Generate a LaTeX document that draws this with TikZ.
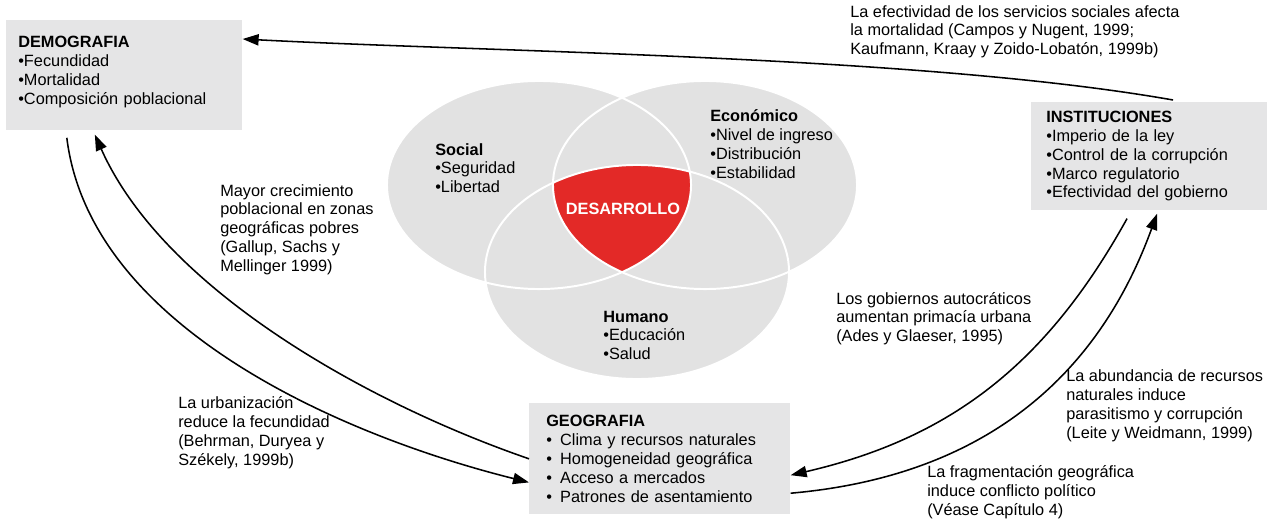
\documentclass[tikz,border=0pt]{standalone}
\usepackage{fontspec}
\setmainfont{Liberation Sans}
\usetikzlibrary{positioning, arrows.meta}

\definecolor{boxgray}{RGB}{229,229,230}
\definecolor{venngray}{RGB}{226,226,226}
\definecolor{devred}{RGB}{227,41,39}

\begin{document}
\begin{tikzpicture}[
	x=0.025cm, y=0.025cm,
	font=\fontsize{11.6}{13.4}\selectfont,
	% Define styles (notes are placed by the baseline of their last line)
	box/.style={rectangle, fill=boxgray, anchor=north west, align=left, inner ysep=0pt},
	note/.style={anchor=base west, align=left, inner sep=0pt},
	lobe/.style={x radius=3.8cm, y radius=2.6cm},
	arrow/.style={-{Triangle[length=0.4cm, width=0.28cm]}, line width=1.1pt},
	rim/.style={draw=white, line width=1.4pt}
	]
	
	\useasboundingbox (0,0) rectangle (1267,-519);
	
	% 1. Factor boxes
	\node[box, inner xsep=0.3cm, text width=5.3cm, minimum height=2.75cm] (demo) at (6,-20) {
		\textbf{DEMOGRAFIA}\\•Fecundidad\\•Mortalidad\\•Composición poblacional\\[-6pt]\mbox{}};
	\node[box, inner xsep=0.375cm, text width=5.15cm, minimum height=2.7cm] (inst) at (1031,-102) {
		\textbf{INSTITUCIONES}\\•Imperio de la ley\\•Control de la corrupción\\•Marco regulatorio\\•Efectividad del gobierno};
	\node[box, inner xsep=0.425cm, text width=5.675cm, minimum height=2.775cm] (geo) at (529,-403) {
		\textbf{GEOGRAFIA}\\•\enspace Clima y recursos naturales\\•\enspace Homogeneidad geográfica\\•\enspace Acceso a mercados\\•\enspace Patrones de asentamiento};
	
	% 2. Development Venn
	\coordinate (soc) at (539,-185);
	\coordinate (eco) at (705,-185);
	\coordinate (hum) at (637,-272);
	\fill[venngray] (soc) ellipse [lobe];
	\fill[venngray] (eco) ellipse [lobe];
	\fill[venngray] (hum) ellipse [lobe, y radius=2.675cm];
	\begin{scope}
		\clip (soc) ellipse [lobe];
		\clip (eco) ellipse [lobe];
		\fill[devred] (hum) ellipse [lobe, y radius=2.675cm];
	\end{scope}
	\draw[rim] (soc) ellipse [lobe];
	\draw[rim] (eco) ellipse [lobe];
	\draw[rim] (hum) ellipse [lobe, y radius=2.675cm];
	
	\node[note] (social) at (435,-192.7) {\textbf{Social}\\•Seguridad\\•Libertad};
	\node[note] (economico) at (710,-178.5) {\textbf{Económico}\\•Nivel de ingreso\\•Distribución\\•Estabilidad};
	\node[note] (humano) at (603,-359.7) {\textbf{Humano}\\•Educación\\•Salud};
	\node[text=white, font=\fontsize{11.6}{13.4}\selectfont\bfseries] (desarrollo) at (623,-209) {DESARROLLO};
	
	% 3. Links between factors
	\draw[arrow] ([xshift=3.55cm, yshift=0.05cm]inst.north west) to[out=170, in=-3, looseness=0.7] ([yshift=-0.475cm]demo.north east);
	\draw[arrow] ([xshift=1.52cm, yshift=-0.18cm]demo.south west) to[out=-83, in=166, looseness=0.85] ([yshift=-0.59cm]geo.west);
	\draw[arrow] (geo.west) to[out=161, in=-66, looseness=0.8] ([xshift=2.22cm, yshift=-0.1cm]demo.south west);
	\draw[arrow] ([xshift=2.4cm, yshift=-0.2cm]inst.south west) to[out=-119, in=13, looseness=1.0] ([yshift=-0.41cm]geo.east);
	\draw[arrow] ([yshift=-0.86cm]geo.east) to[out=5, in=-110, looseness=1.02] ([xshift=3.15cm, yshift=-0.08cm]inst.south west);
	
	% 4. Link labels
	\node[note] (efectividad) at (850,-54.7) {La efectividad de los servicios sociales afecta\\la mortalidad (Campos y Nugent, 1999;\\Kaufmann, Kraay y Zoido-Lobatón, 1999b)};
	\node[note] (crecimiento) at (220,-271.4) {Mayor crecimiento\\poblacional en zonas\\geográficas pobres\\(Gallup, Sachs y\\Mellinger 1999)};
	\node[note] (urbanizacion) at (178,-465.5) {La urbanización\\reduce la fecundidad\\(Behrman, Duryea y\\Székely, 1999b)};
	\node[note] (autocraticos) at (836,-341.7) {Los gobiernos autocráticos\\aumentan primacía urbana\\(Ades y Glaeser, 1995)};
	\node[note] (abundancia) at (1066,-438.5) {La abundancia de recursos\\naturales induce\\parasitismo y corrupción\\(Leite y Weidmann, 1999)};
	\node[note] (fragmentacion) at (927,-515.5) {La fragmentación geográfica\\induce conflicto político\\(Véase Capítulo 4)};
\end{tikzpicture}
\end{document}
